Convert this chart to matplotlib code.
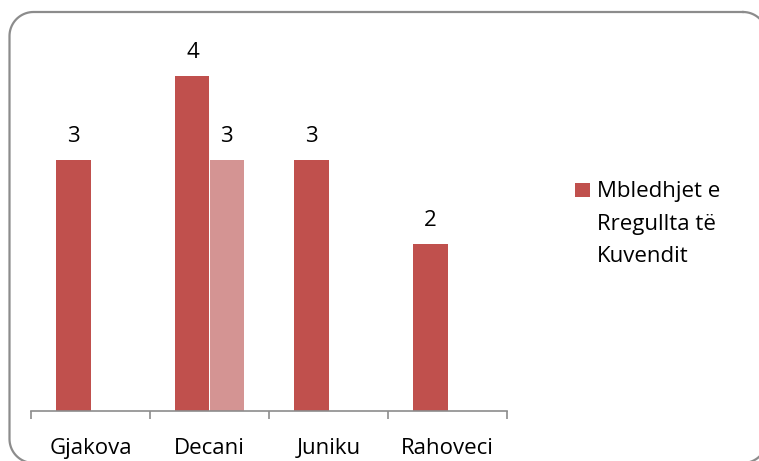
import matplotlib
matplotlib.use("Agg")
import matplotlib.pyplot as plt
from matplotlib.patches import Rectangle
import numpy as np

categories = ["Gjakova", "Decani", "Juniku", "Rahoveci"]
series_main = [3, 4, 3, 2]
series_extra = [None, 3, None, None]
legend_label = "Mbledhjet e\nRregullta të\nKuvendit"

W, H = 759, 461
plt.rcParams['font.family'] = ['Open Sans', 'DejaVu Sans']
fig = plt.figure(figsize=(W / 100, H / 100), dpi=100)

# background axes in pixel coordinates (origin top-left)
bg = fig.add_axes([0, 0, 1, 1], zorder=-1)
bg.set_xlim(0, W)
bg.set_ylim(H, 0)
bg.axis("off")


def rounded_rect(x0, y0, x1, y1, r, n=20):
    xs, ys = [], []
    corners = [(x1 - r, y0 + r, -90, 0), (x1 - r, y1 - r, 0, 90),
               (x0 + r, y1 - r, 90, 180), (x0 + r, y0 + r, 180, 270)]
    for cx, cy, a0, a1 in corners:
        t = np.radians(np.linspace(a0, a1, n))
        xs.extend(cx + r * np.cos(t))
        ys.extend(cy + r * np.sin(t))
    xs.append(xs[0])
    ys.append(ys[0])
    return xs, ys


bx, by = rounded_rect(9.5, 12, 767, 463, 24)
bg.plot(bx, by, color="#8c8c8c", linewidth=1.6, clip_on=False)

ymax = 4.5
unit = 83.7
bottom_px = 411
top_px = bottom_px - ymax * unit
ax = fig.add_axes([31 / W, (H - bottom_px) / H, (507 - 31) / W, (bottom_px - top_px) / H])
ax.set_ylim(0, ymax)
ax.set_xlim(-0.5, len(categories) - 0.5)
ax.patch.set_alpha(0)

x = np.arange(len(categories))
bw = 0.286
c_main = "#c0504d"
c_extra = "#d49493"
fs = 16
lab_off = 18 / unit
bars = ax.bar(x - bw / 2, series_main, width=bw, color=c_main, label=legend_label)
for xi, v in zip(x, series_main):
    ax.text(xi - bw / 2, v + lab_off, str(v), ha="center", va="baseline", fontsize=fs, color="black")
for xi, v in zip(x, series_extra):
    if v is not None:
        ax.bar(xi + bw / 2, v, width=bw, color=c_extra)
        ax.text(xi + bw / 2, v + lab_off, str(v), ha="center", va="baseline", fontsize=fs, color="black")

for s in ["top", "right", "left"]:
    ax.spines[s].set_visible(False)
ax.spines["bottom"].set_color("#8c8c8c")
ax.spines["bottom"].set_linewidth(1.2)
ax.set_yticks([])
ax.set_xticks(x)
ax.set_xticklabels(categories, fontsize=fs)
ax.tick_params(axis="x", which="major", length=0, pad=43 * 0.72)
for lbl in ax.get_xticklabels():
    lbl.set_va("baseline")
ax.set_xticks(np.arange(-0.5, len(categories)), minor=True)
ax.tick_params(axis="x", which="minor", length=8 * 0.72, color="#8c8c8c", width=1.2)

# legend (single entry)
bg.add_patch(Rectangle((575, 183), 15, 14, facecolor=c_main, edgecolor="none"))
for i, line in enumerate(legend_label.split("\n")):
    bg.text(597, 197 + 32.5 * i, line, ha="left", va="baseline",
            fontsize=fs, color="black")

fig.savefig("out.png", dpi=100)
